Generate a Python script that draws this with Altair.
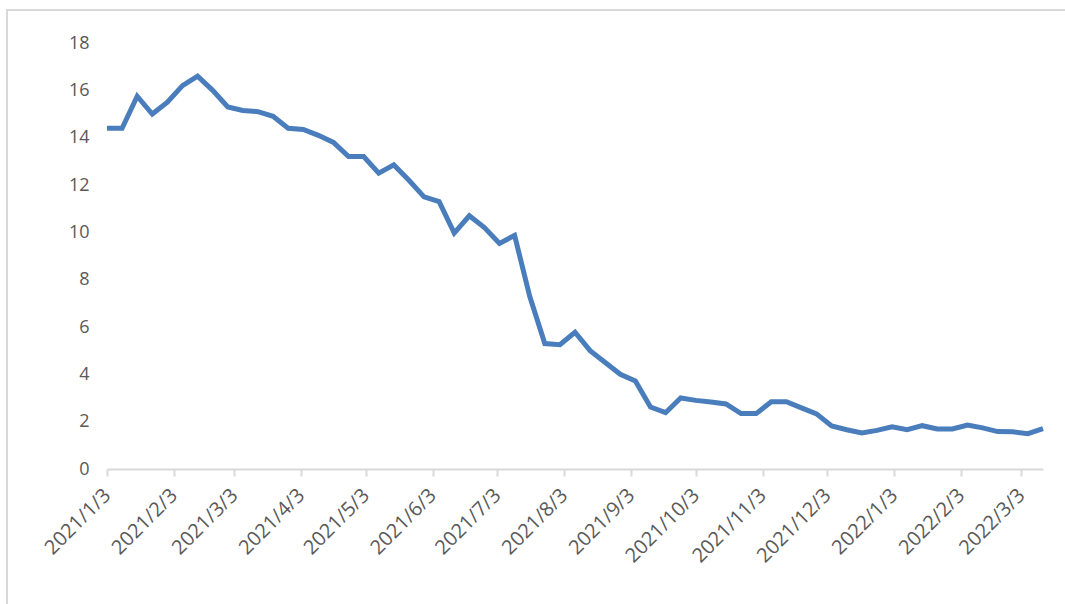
import altair as alt
import pandas as pd

start = "2021-01-03"
values = [14.4, 14.4, 15.75, 15.0, 15.5, 16.2, 16.6, 16.0, 15.3, 15.15,
          15.1, 14.9, 14.4, 14.35, 14.1, 13.8, 13.2, 13.2, 12.5, 12.85,
          12.2, 11.5, 11.3, 9.97, 10.7, 10.2, 9.53, 9.87, 7.3, 5.3,
          5.25, 5.78, 5.0, 4.5, 4.0, 3.72, 2.62, 2.38, 3.0, 2.9,
          2.83, 2.75, 2.34, 2.34, 2.84, 2.84, 2.58, 2.33, 1.82, 1.66,
          1.52, 1.63, 1.78, 1.66, 1.83, 1.69, 1.69, 1.86, 1.74, 1.58,
          1.57, 1.49, 1.71]
dates = pd.date_range(start, periods=len(values), freq="7D").strftime("%Y-%m-%d").tolist()

tick_dates = ["2021-01-03", "2021-02-03", "2021-03-03", "2021-04-03", "2021-05-03",
              "2021-06-03", "2021-07-03", "2021-08-03", "2021-09-03", "2021-10-03",
              "2021-11-03", "2021-12-03", "2022-01-03", "2022-02-03", "2022-03-03"]
y_ticks = [0, 2, 4, 6, 8, 10, 12, 14, 16, 18]

df = pd.DataFrame({"date": dates, "value": values})


def dt(s):
    y, m, d = map(int, s.split("-"))
    return alt.DateTime(year=y, month=m, date=d, utc=True)


FONT = "Open Sans"
GREY = "#595959"

line = alt.Chart(df).mark_line(color="#4a7dbb", strokeWidth=5, strokeJoin="miter").encode(
    x=alt.X("date:T",
            scale=alt.Scale(type="utc", domain=[dt(dates[0]), dt(dates[-1])], nice=False),
            axis=alt.Axis(values=[dt(s) for s in tick_dates],
                          labelExpr="utcFormat(datum.value, '%Y/%-m/%-d')",
                          labelAngle=-45, labelAlign="right", labelBaseline="middle",
                          labelFontSize=20, labelFont=FONT, labelColor=GREY,
                          labelPadding=16, labelOverlap=False, labelBound=False,
                          labelFlush=False,
                          domainColor="#d9d9d9", domainWidth=2,
                          tickColor="#d9d9d9", tickWidth=2, tickSize=7,
                          grid=False, title=None)),
    y=alt.Y("value:Q",
            scale=alt.Scale(domain=[0, 18], nice=False),
            axis=alt.Axis(values=y_ticks, labelFontSize=18, labelFont=FONT,
                          labelColor=GREY, labelPadding=18, domain=False,
                          ticks=False, grid=False, title=None)),
)

frame = alt.Chart(pd.DataFrame({"a": [0]})).mark_rect(
    fill=None, stroke="#d9d9d9", strokeWidth=2
).encode(x=alt.value(-100), x2=alt.value(970), y=alt.value(-33), y2=alt.value(580))

chart = alt.layer(frame, line).properties(
    width=936, height=426,
    background="white",
    autosize=alt.AutoSizeParams(type="none"),
    padding={"left": 107, "top": 43, "right": 22, "bottom": 135},
).configure_view(stroke="transparent", strokeWidth=0)

chart.save("out.html", embed_options={"renderer": "svg", "actions": False})
